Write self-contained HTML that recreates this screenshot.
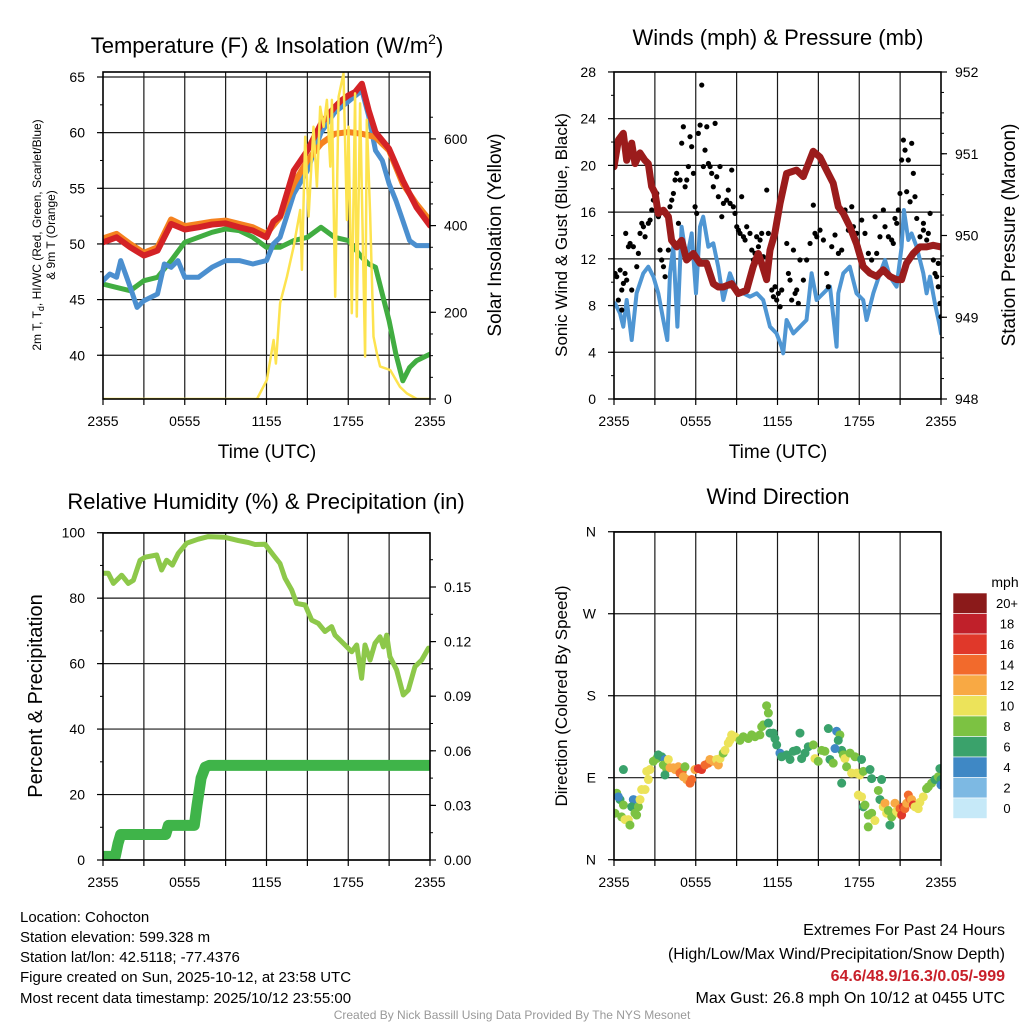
<!DOCTYPE html>
<html><head><meta charset="utf-8"><title>Cohocton Meteogram</title>
<style>
html,body{margin:0;padding:0;background:#fff;}
svg{display:block;font-family:"Liberation Sans",Arial,sans-serif;}
</style></head>
<body>
<svg id="fig" xmlns="http://www.w3.org/2000/svg" width="1024" height="1024" viewBox="0 0 1024 1024">
<rect x="0" y="0" width="1024" height="1024" fill="#fff"/>
<g id="layer"></g>
<!-- Titles -->
<text x="267" y="53" font-size="22" text-anchor="middle">Temperature (F) &amp; Insolation (W/m<tspan font-size="14" dy="-9">2</tspan><tspan dy="9">)</tspan></text>
<text x="778" y="45" font-size="22" text-anchor="middle">Winds (mph) &amp; Pressure (mb)</text>
<text x="266" y="509" font-size="22" text-anchor="middle">Relative Humidity (%) &amp; Precipitation (in)</text>
<text x="778" y="504" font-size="22" text-anchor="middle">Wind Direction</text>
<!-- axis titles -->
<text transform="translate(41,235) rotate(-90)" font-size="12" text-anchor="middle">2m T, T<tspan font-size="9" dy="3">d</tspan><tspan dy="-3">, HI/WC (Red, Green, Scarlet/Blue)</tspan></text>
<text transform="translate(55,235) rotate(-90)" font-size="12" text-anchor="middle">&amp; 9m T (Orange)</text>
<text transform="translate(501,235) rotate(-90)" font-size="19" text-anchor="middle">Solar Insolation (Yellow)</text>
<text x="267" y="458" font-size="19" text-anchor="middle">Time (UTC)</text>
<text transform="translate(567,235) rotate(-90)" font-size="17" text-anchor="middle">Sonic Wind &amp; Gust (Blue, Black)</text>
<text transform="translate(1015,235) rotate(-90)" font-size="19" text-anchor="middle">Station Pressure (Maroon)</text>
<text x="778" y="458" font-size="19" text-anchor="middle">Time (UTC)</text>
<text transform="translate(42,696) rotate(-90)" font-size="20" text-anchor="middle">Percent &amp; Precipitation</text>
<text transform="translate(567,696) rotate(-90)" font-size="17" text-anchor="middle">Direction (Colored By Speed)</text>
<text x="1005" y="587" font-size="14" text-anchor="middle">mph</text>
<!-- footer -->
<g font-size="15">
<text x="20" y="922">Location: Cohocton</text>
<text x="20" y="942">Station elevation: 599.328 m</text>
<text x="20" y="962">Station lat/lon: 42.5118; -77.4376</text>
<text x="20" y="982">Figure created on Sun, 2025-10-12, at 23:58 UTC</text>
<text x="20" y="1003">Most recent data timestamp: 2025/10/12 23:55:00</text>
</g>
<g font-size="16" text-anchor="end">
<text x="1005" y="935">Extremes For Past 24 Hours</text>
<text x="1005" y="959">(High/Low/Max Wind/Precipitation/Snow Depth)</text>
<text x="1005" y="981" fill="#c8202a" font-weight="bold">64.6/48.9/16.3/0.05/-999</text>
<text x="1005" y="1003">Max Gust: 26.8 mph On 10/12 at 0455 UTC</text>
</g>
<text x="512" y="1019" font-size="12" fill="#999" text-anchor="middle">Created By Nick Bassill Using Data Provided By The NYS Mesonet</text>
</svg>
<script>
// ---------- DATA ----------
const timeLabels = ["2355","0555","1155","1755","2355"];
const tempTicks = [40,45,50,55,60,65];
const solarTicks = [0,200,400,600];
const windTicks = [0,4,8,12,16,20,24,28];
const presTicks = [948,949,950,951,952];
const rhTicks = [0,20,40,60,80,100];
const precipTicks = [0.00,0.03,0.06,0.09,0.12,0.15];
const dirTicks = ["N","E","S","W","N"];
const speedBins = ["0","2","4","6","8","10","12","14","16","18","20+"];

const redHours = [0,1,2,3,4,5,6,7,8,9,10,11,12,12.5,13,14,15,16,17,17.5,18,18.5,19,19.5,20,21,22,23,24];
const redTemp  = [50.15,50.6,49.7,48.95,49.4,51.8,51.3,51.5,51.75,51.85,51.5,51.2,50.6,52.0,52.5,56.6,58.4,60.8,62.3,62.9,63.35,63.65,64.4,62.0,60.05,58.55,55.7,53.3,51.65];
const orangeHours = [0,1,2,3,4,5,6,7,8,9,10,11,12,13,14,15,16,17,18,19,20,21,22,23,24];
const orangeTemp  = [50.5,50.9,50.0,49.2,49.7,52.2,51.6,51.8,52.0,52.1,51.8,51.5,50.9,52.4,55.4,57.5,59.0,59.9,60.05,59.9,59.6,58.4,55.4,53.6,52.1];
const greenHours = [0,1,2,3,4,5,6,7,8,9,10,11,12,13,14,15,16,17,18,19,19.5,20,20.5,21,21.5,22,22.5,23,24];
const greenTemp  = [46.4,46.1,45.8,46.7,47.0,48.5,50.15,50.6,51.05,51.35,51.2,50.6,49.7,49.7,50.3,50.6,51.5,50.6,50.3,48.8,48.2,47.9,45.5,43.1,40.1,37.7,38.9,39.5,40.1];
const blueHours = [0,0.5,1,1.3,2,2.5,3,4,4.5,5,5.5,6,7,8,9,10,11,12,12.5,13,14,15,16,17,18,19,19.5,20,20.5,21,21.5,22,22.5,23,24];
const blueTemp  = [46.7,47.3,47.0,48.5,46.1,44.3,44.9,45.5,48.2,47.9,48.5,47.0,47.0,47.9,48.5,48.5,48.2,48.5,50.0,50.6,54.5,56.6,60.0,61.8,62.8,63.8,61.5,58.4,57.5,55.4,53.9,52.1,50.3,49.85,49.85];
const solarHours = [0,11.3,12.03,12.52,12.69,13.0,13.5,13.99,14.47,14.6,14.84,15.09,15.45,15.7,15.94,16.19,16.43,16.68,16.8,17.04,17.29,17.65,17.9,18.02,18.26,18.5,18.63,18.87,19.24,19.36,19.6,19.85,20.1,20.34,21.08,21.8,22.3,23.03,24];
const solarVals  = [0,0,44,136,82,221,282,351,436,298,605,421,628,490,674,628,690,536,690,236,697,751,413,628,198,705,190,682,98,644,428,144,105,75,67,28,13,0,0];

const pressHours = [0,0.32,0.68,0.93,1.30,1.54,1.91,2.27,2.52,2.76,3.01,3.25,3.62,3.99,4.23,4.60,4.96,5.33,5.82,6.31,6.80,7.29,7.65,8.02,8.63,9.12,9.73,10.22,10.59,10.83,11.20,11.45,11.81,12.18,12.67,13.40,13.89,14.62,15.11,15.60,16.09,16.46,16.83,17.31,17.80,18.29,18.78,19.27,19.76,20.25,20.74,21.11,21.47,21.96,22.45,22.94,23.43,24];
const pressVals  = [950.84,951.17,951.25,950.92,951.13,950.88,951.01,950.92,950.88,950.60,950.52,950.27,950.31,950.23,949.94,949.86,949.94,949.70,949.78,949.66,949.66,949.41,949.37,949.37,949.41,949.29,949.33,949.62,949.78,949.66,949.46,949.82,950.03,950.39,950.76,950.80,950.72,951.03,950.96,950.80,950.64,950.35,950.27,950.11,949.90,949.62,949.54,949.50,949.58,949.50,949.46,949.46,949.66,949.78,949.86,949.86,949.88,949.86];
const windHours = [0,0.07,0.44,0.68,0.93,1.30,1.66,2.15,2.52,2.89,3.25,3.62,3.91,4.11,4.35,4.65,4.96,5.33,5.70,6.02,6.31,6.55,6.92,7.29,7.65,8.02,8.51,9.00,9.49,9.98,10.47,10.95,11.45,11.93,12.30,12.42,12.67,13.16,13.65,14.13,14.50,14.87,15.36,15.85,16.34,16.46,16.83,17.31,17.80,18.29,18.54,19.03,19.52,19.89,20.25,20.74,21.11,21.28,21.60,21.84,22.21,22.70,22.94,23.19,23.55,23.92,24];
const windVals  = [8.2,8.19,7.33,6.19,8.48,5.05,9.05,10.76,11.33,10.47,9.05,6.76,5.05,10.76,13.04,6.19,14.75,11.90,14.18,9.05,14.75,15.61,13.04,13.33,11.33,8.48,10.76,9.33,9.05,8.76,9.05,8.48,6.19,5.62,4.48,3.91,6.76,5.62,6.19,6.76,10.76,8.48,9.05,9.62,4.48,9.05,10.76,11.33,9.05,8.48,6.76,9.05,10.76,11.90,10.47,9.62,13.04,16.18,13.61,14.18,13.04,10.76,9.05,10.47,8.19,6.19,5.62];
const gustHours = [0.08,0.20,0.45,0.57,0.69,0.81,0.93,0.32,0.57,0.86,1.06,1.18,1.30,1.42,1.67,1.79,1.91,2.04,2.16,2.28,2.52,2.65,2.77,2.89,3.14,3.26,3.38,3.50,3.63,3.75,3.99,4.11,4.24,4.36,4.48,4.60,4.73,4.85,4.97,5.09,5.22,5.34,5.46,5.58,5.70,5.83,5.95,6.07,6.19,6.32,6.44,6.56,6.68,6.81,6.93,7.05,7.17,7.29,7.42,7.54,7.66,7.78,7.91,8.03,8.27,8.39,8.52,8.64,8.76,8.88,9.01,9.13,9.25,9.37,9.50,9.62,9.74,9.98,10.11,10.23,10.35,10.47,10.60,10.72,10.84,10.96,11.21,11.33,11.58,11.70,11.82,11.94,12.06,12.19,12.31,12.68,12.80,12.92,13.04,13.17,13.29,13.41,13.53,13.65,13.90,14.14,14.39,14.63,14.75,14.88,15.12,15.37,15.61,15.73,15.98,16.22,16.47,16.71,16.96,17.20,17.45,17.57,17.81,17.93,18.18,18.42,18.67,18.91,19.16,19.28,19.52,19.77,19.89,20.14,20.38,20.50,20.62,20.75,20.87,20.99,21.11,21.24,21.36,21.48,21.60,21.73,21.85,21.97,22.09,22.22,22.46,22.71,22.95,23.07,23.20,23.44,23.56,23.68,23.80,23.93,24.0,23.80,22.71];
const gustVals  = [10.75,10.47,11.04,9.33,9.90,10.75,10.18,8.47,7.62,14.18,13.04,13.32,9.33,13.04,11.33,12.47,14.18,15.04,14.75,13.89,15.04,15.32,16.18,17.03,17.6,15.61,12.75,11.9,11.33,10.47,12.75,16.46,17.03,17.6,18.75,19.32,15.04,18.75,21.9,23.31,18.17,18.75,19.9,22.46,21.6,19.32,16.46,15.89,22.74,23.45,26.88,19.9,21.31,23.31,20.17,19.9,19.32,18.17,23.6,19.03,17.32,19.9,15.61,16.75,17.03,17.89,16.75,19.6,16.46,15.89,14.75,14.46,14.18,17.32,13.89,13.61,14.75,14.18,12.75,11.9,12.47,13.89,13.04,13.61,14.18,12.18,17.89,14.18,9.33,8.76,9.61,8.47,9.04,7.9,9.33,13.32,10.75,10.18,8.47,12.75,9.04,9.33,8.19,11.9,10.18,11.9,13.32,16.6,14.18,13.89,14.46,13.61,10.75,9.61,13.04,14.04,12.47,12.75,16.18,14.46,16.46,14.75,14.18,13.04,15.32,14.18,12.47,11.9,15.61,12.47,13.89,16.18,14.75,13.89,13.61,13.32,15.46,15.04,16.18,17.6,20.46,22.17,21.31,17.75,20.46,16.89,21.89,19.32,17.32,15.46,13.89,14.46,13.61,14.18,15.89,11.9,10.75,10.47,9.61,8.19,7.04,11.61,15.04];

const rhHours = [0,0.39,0.76,1.37,1.86,2.23,2.72,3.08,3.94,4.30,4.67,5.09,5.53,6.14,6.99,7.73,8.95,9.93,10.67,11.16,11.89,12.50,12.99,13.36,13.85,14.21,14.83,15.32,15.80,16.29,16.78,17.03,17.76,18.25,18.62,18.98,19.23,19.60,19.96,20.33,20.58,20.82,21.06,21.55,22.04,22.41,22.90,23.39,23.88,24];
const rhVals  = [87.6,87.6,84.5,87.0,84.5,85.5,91.6,92.5,93.2,88.6,91.6,90.1,93.7,96.8,98.0,98.8,98.6,97.6,97.0,96.4,96.5,93.2,90.6,86.1,82.5,78.4,77.9,73.3,72.3,69.8,71.3,68.7,65.7,63.6,65.7,55.5,65.7,61.1,66.2,68.2,65.1,68.7,62.1,58.1,50.4,51.9,59.1,61.1,64.7,64.5];
const precipHours = [0,0.9,1.1,1.3,4.6,4.8,4.9,6.7,6.9,7.2,7.5,7.8,24];
const precipVals  = [0.002,0.002,0.009,0.014,0.014,0.019,0.019,0.019,0.030,0.045,0.051,0.052,0.052];

const dirHours = [0.20,0.07,0.44,0.32,0.69,0.56,0.81,1.05,1.17,1.42,1.30,1.54,1.66,1.79,1.91,2.03,2.28,0.69,2.52,2.40,2.64,2.89,3.13,3.25,3.50,3.74,3.62,3.86,3.74,3.99,4.11,4.35,4.48,4.72,4.84,5.01,5.21,5.09,5.33,5.58,5.70,5.94,6.19,6.43,6.68,6.92,7.04,7.29,7.53,7.66,7.78,8.02,8.15,8.39,8.51,8.63,8.88,9.25,9.49,9.86,10.10,10.35,10.71,10.84,10.96,11.20,11.33,11.33,11.45,11.69,11.81,11.94,12.18,12.30,12.67,12.92,13.16,13.40,13.65,13.77,14.02,14.26,14.63,14.75,14.99,15.24,15.48,15.73,15.85,16.09,16.34,16.58,16.46,16.71,16.22,16.83,16.95,17.07,17.32,17.44,17.69,17.81,18.05,18.17,18.30,17.93,18.17,18.30,18.42,18.66,18.91,18.66,18.79,18.91,19.15,19.40,19.52,19.64,19.76,19.89,20.01,20.13,20.25,20.38,20.62,20.74,20.87,20.99,21.11,21.23,21.35,21.48,21.60,21.72,21.84,21.97,22.09,22.33,22.45,22.70,22.94,23.07,23.31,23.56,23.80,23.92,24.0,24.0,16.71,17.32];
const dirVals  = [73,51,66,69,60,47,44,44,38,66,58,51,49,58,66,77,77,99,88,97,99,108,111,115,113,110,104,100,93,110,101,101,99,102,95,97,102,91,88,84,88,99,100,99,104,106,110,108,110,104,111,117,120,128,131,137,135,131,135,133,137,135,137,146,148,169,161,150,139,139,133,126,117,113,115,110,119,120,139,111,117,124,126,111,108,120,119,144,110,106,141,137,131,120,122,115,111,102,117,95,113,95,93,110,97,71,69,58,60,49,51,36,99,89,43,76,66,88,58,62,51,54,38,47,62,53,51,56,49,58,56,62,71,67,66,60,58,56,63,69,78,80,84,88,91,100,88,82,84];
const dirSpeeds = [9,9,7,5,9,9,11,11,9,5,7,9,9,9,11,11,11,7,11,11,11,9,9,7,7,5,9,9,7,11,13,13,13,13,15,15,9,13,13,15,15,13,17,17,15,15,13,13,11,13,11,9,11,11,11,11,11,9,9,9,9,9,9,9,9,9,9,7,7,7,7,7,5,7,7,7,7,7,7,7,7,7,9,11,9,9,9,7,7,9,5,9,7,7,5,9,11,9,9,11,9,11,11,7,9,11,11,7,9,9,9,9,7,7,11,9,7,7,11,13,11,9,7,9,13,11,11,15,17,17,15,13,15,15,13,17,11,11,11,11,9,9,9,7,9,7,7,5,7,7];

// ---------- RENDER ----------
const NS = "http://www.w3.org/2000/svg";
const root = document.getElementById("layer");
function mk(tag, attrs, parent){
  const e = document.createElementNS(NS, tag);
  for (const k in attrs) e.setAttribute(k, attrs[k]);
  (parent || root).appendChild(e);
  return e;
}
const GRID = "#1a1a1a";
const speedColors = ["#c6e9f8","#7db9e3","#3f88c5","#3aa26b","#7cc242","#ece35a","#f8a944","#f26a2c","#e0382a","#c0202a","#8b1a1a"];
function spdColor(s){ return speedColors[Math.min(10, Math.floor(s/2))]; }

function panel(name, x0, x1, y0, y1){
  const g = mk("g", {});
  
  
  const cid = name + "-clip";
  const cp = mk("clipPath", {id: cid}, g);
  mk("rect", {x: x0, y: y0, width: x1 - x0, height: y1 - y0}, cp);
  const xs = h => x0 + h * (x1 - x0) / 24;
  return {g, cid, xs, x0, x1, y0, y1};
}
function vgrid(P){
  for (let h = 3; h < 24; h += 3) {
    const l = mk("line", {x1: P.xs(h), x2: P.xs(h), y1: P.y0, y2: P.y1, stroke: GRID, "stroke-width": 1.2}, P.g);
    
    
  }
  for (let h = 0; h <= 24; h += 3) {
    const t = mk("line", {x1: P.xs(h), x2: P.xs(h), y1: P.y1, y2: P.y1 + 6, stroke: "#000", "stroke-width": 1.2}, P.g);
    
    
  }
  timeLabels.forEach((lab, i) => {
    const t = mk("text", {x: P.xs(i * 6), y: P.y1 + 27, "font-size": 14, "text-anchor": "middle"}, P.g);
    t.textContent = lab;
    
    
  });
}
function hgrid(P, ticks, ys, labels, side, minorStep, grid){
  ticks.forEach((v, i) => {
    const y = ys(v);
    if (grid) {
      const l = mk("line", {x1: P.x0, x2: P.x1, y1: y, y2: y, stroke: GRID, "stroke-width": 1.2}, P.g);
      
      
    }
    const ax = side === "left" ? P.x0 : P.x1;
    const dx = side === "left" ? -6 : 6;
    const tk = mk("line", {x1: ax, x2: ax + dx, y1: y, y2: y, stroke: "#000", "stroke-width": 1.2}, P.g);
    
    
    const t = mk("text", {x: side === "left" ? ax - 18 : ax + 14, y: y + 5, "font-size": 14, "text-anchor": side === "left" ? "end" : "start"}, P.g);
    t.textContent = labels[i];
    
    
  });
  if (minorStep) {
    const lo = ticks[0], hi = ticks[ticks.length - 1] + minorStep;
    for (let v = lo; v <= hi + 1e-9; v += minorStep) {
      const y = ys(v);
      if (y < P.y0 - 0.5 || y > P.y1 + 0.5) continue;
      const ax = side === "left" ? P.x0 : P.x1;
      const m = mk("line", {x1: ax, x2: ax + (side === "left" ? -3 : 3), y1: y, y2: y, stroke: "#000", "stroke-width": 1}, P.g);
      
      
    }
  }
}
function line(P, hours, vals, ys, color, w, name){
  const d = hours.map((h, i) => (i ? "L" : "M") + P.xs(h).toFixed(1) + "," + ys(vals[i]).toFixed(1)).join("");
  const p = mk("path", {d, fill: "none", stroke: color, "stroke-width": w, "stroke-linejoin": "round", "stroke-linecap": "round", "clip-path": "url(#" + P.cid + ")"}, P.g);
  
  
  return p;
}
function frame(P){
  const r = mk("rect", {x: P.x0, y: P.y0, width: P.x1 - P.x0, height: P.y1 - P.y0, fill: "none", stroke: "#000", "stroke-width": 1.6}, P.g);
  
  
}

// Panel 1: temperature & insolation
const P1 = panel("temperature-panel", 103, 430, 72, 399);
const yT = t => 77 + (65 - t) * 11.13;
const yS = s => 399 - s * 0.4335;
vgrid(P1);
hgrid(P1, tempTicks, yT, tempTicks.map(String), "left", 2.5, true);
hgrid(P1, solarTicks, yS, solarTicks.map(String), "right", 50, false);
line(P1, greenHours, greenTemp, yT, "#41ad41", 5, "dewpoint-line");
line(P1, blueHours, blueTemp, yT, "#4b8fcf", 5, "heat-index-line");
line(P1, orangeHours, orangeTemp, yT, "#f5821f", 6, "temp-9m-line");
line(P1, redHours, redTemp, yT, "#d42226", 6, "temp-2m-line");
line(P1, solarHours, solarVals, yS, "#fde34f", 2.5, "solar-insolation-line");
frame(P1);

// Panel 2: wind & pressure
const P2 = panel("wind-panel", 614, 941, 72, 399);
const yW = w => 399 - w * 11.68;
const yP = p => 399 - (p - 948) * 81.75;
vgrid(P2);
hgrid(P2, windTicks, yW, windTicks.map(String), "left", 2, true);
hgrid(P2, presTicks, yP, presTicks.map(String), "right", 0.25, false);
line(P2, windHours, windVals, yW, "#4f96d3", 4, "sonic-wind-line");
gustHours.forEach((h, i) => {
  const c = mk("circle", {cx: P2.xs(h), cy: yW(gustVals[i]), r: 2.6, fill: "#000", "clip-path": "url(#" + P2.cid + ")"}, P2.g);
  
  
});
line(P2, pressHours, pressVals, yP, "#9b1c1c", 7, "pressure-line");
frame(P2);

// Panel 3: RH & precip
const P3 = panel("humidity-panel", 103, 430, 533, 860);
const yR = r => 860 - r * 3.273;
const yPr = p => 860 - p * 1820;
vgrid(P3);
hgrid(P3, rhTicks, yR, rhTicks.map(String), "left", 10, true);
hgrid(P3, precipTicks, yPr, precipTicks.map(v => v.toFixed(2)), "right", 0.015, false);
line(P3, rhHours, rhVals, yR, "#8dc84a", 5, "relative-humidity-line");
line(P3, precipHours, precipVals, yPr, "#3fb449", 11, "precipitation-line");
frame(P3);

// Panel 4: wind direction
const P4 = panel("direction-panel", 614, 941, 532, 860);
const yD = d => 859.7 - d * 0.911;
vgrid(P4);
hgrid(P4, [0, 90, 180, 270, 360], yD, dirTicks, "left", 0, true);
dirHours.forEach((h, i) => {
  const c = mk("circle", {cx: P4.xs(h), cy: yD(dirVals[i]), r: 4.5, fill: spdColor(dirSpeeds[i]), "clip-path": "url(#" + P4.cid + ")"}, P4.g);
  
  
});
frame(P4);

// Colorbar
const cb = mk("g", {});


speedBins.forEach((lab, i) => {
  const k = speedBins.length - 1 - i;
  const y = 593 + i * 20.5;
  const r = mk("rect", {x: 953, y: y, width: 34, height: 20.5, fill: speedColors[k], stroke: "#fff", "stroke-width": 0.6}, cb);
  
  
  const t = mk("text", {x: 1007, y: y + 15, "font-size": 13, "text-anchor": "middle"}, cb);
  t.textContent = speedBins[k];
  
  
});
</script>
</body></html>
